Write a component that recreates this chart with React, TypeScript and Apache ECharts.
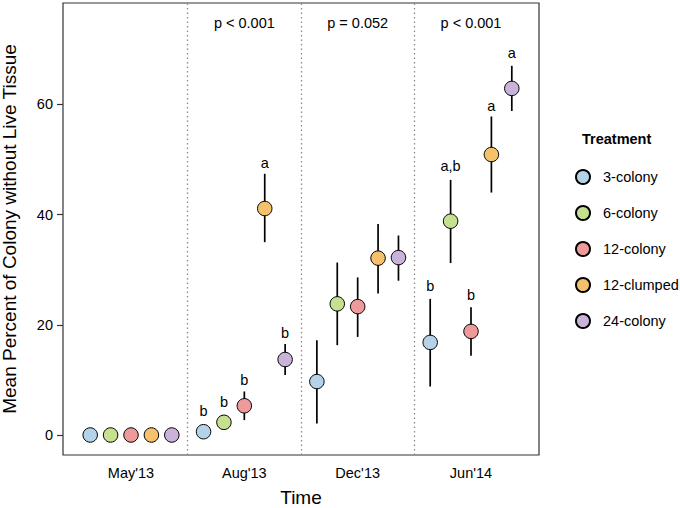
import React, { useEffect, useRef } from "react";
import * as echarts from "echarts";

const times = ["May'13", "Aug'13", "Dec'13", "Jun'14"];
const treatments = ["3-colony", "6-colony", "12-colony", "12-clumped", "24-colony"];
const colors = ["#b4d3e9", "#c5e08e", "#ee9a9a", "#f5c26b", "#c9b3db"];
const dodge = [-0.36, -0.18, 0, 0.18, 0.36];

const mean3 = [0, 0.6, 9.7, 16.8];
const lo3 = [0, 0.1, 2.1, 8.8];
const hi3 = [0, 1.1, 17.2, 24.7];
const mean6 = [0, 2.3, 23.8, 38.8];
const lo6 = [0, 1.5, 16.3, 31.2];
const hi6 = [0, 3.1, 31.3, 46.3];
const mean12 = [0, 5.3, 23.3, 18.8];
const lo12 = [0, 2.7, 17.8, 14.4];
const hi12 = [0, 7.9, 28.6, 23.2];
const meanC = [0, 41.1, 32.1, 50.9];
const loC = [0, 35.0, 25.7, 44.0];
const hiC = [0, 47.4, 38.3, 57.8];
const mean24 = [0, 13.7, 32.2, 62.9];
const lo24 = [0, 10.9, 28.0, 58.8];
const hi24 = [0, 16.5, 36.2, 67.0];

const means = [mean3, mean6, mean12, meanC, mean24];
const lows = [lo3, lo6, lo12, loC, lo24];
const highs = [hi3, hi6, hi12, hiC, hi24];

const letterTime = [1, 1, 1, 1, 1, 3, 3, 3, 3, 3];
const letterTreat = [0, 1, 2, 3, 4, 0, 1, 2, 3, 4];
const letterText = ["b", "b", "b", "a", "b", "b", "a,b", "b", "a", "a"];
const letterY = [4.4, 5.9, 9.9, 49.4, 18.6, 27.0, 48.8, 25.4, 59.7, 69.3];

const pTime = [1, 2, 3];
const pText = ["p < 0.001", "p = 0.052", "p < 0.001"];
const pY = [74.7, 74.7, 74.7];

const yTicks = [0, 20, 40, 60];
const xTicks = [1, 2, 3, 4];
const dividers = [1.5, 2.5, 3.5];

const FONT = "'Liberation Sans', Arial, Helvetica, sans-serif";

export default function App() {
  const ref = useRef<HTMLDivElement>(null);
  useEffect(() => {
    if (!ref.current) return;
    const chart = echarts.init(ref.current, null, { renderer: "svg" });

    const textRender = (params: any, api: any) => {
      const idx = params.dataIndex;
      const p = api.coord([api.value(0), api.value(1)]);
      const d = params.seriesName === "letters" ? letterText : pText;
      return {
        type: "text",
        x: p[0],
        y: p[1],
        style: {
          text: d[idx],
          align: "center",
          verticalAlign: "middle",
          fill: "#000",
          fontSize: 14.5,
          fontFamily: FONT,
        },
      };
    };

    const series: any[] = [];
    treatments.forEach((name, k) => {
      series.push({
        name: name + " error",
        type: "custom",
        z: 2,
        silent: true,
        data: means[k].map((_, t) => [t + 1 + dodge[k], lows[k][t], highs[k][t]]),
        renderItem: (params: any, api: any) => {
          const p1 = api.coord([api.value(0), api.value(1)]);
          const p2 = api.coord([api.value(0), api.value(2)]);
          return {
            type: "line",
            shape: { x1: p1[0], y1: p1[1], x2: p2[0], y2: p2[1] },
            style: { stroke: "#000", lineWidth: 1.7 },
          };
        },
      });
    });
    treatments.forEach((name, k) => {
      series.push({
        name,
        type: "scatter",
        z: 3,
        symbol: "circle",
        symbolSize: 14.5,
        itemStyle: { color: colors[k], borderColor: "#000", borderWidth: 1, opacity: 1 },
        data: means[k].map((v, t) => [t + 1 + dodge[k], v]),
      });
    });
    series.push({
      name: "letters",
      type: "custom",
      z: 4,
      silent: true,
      renderItem: textRender,
      data: letterText.map((_, i) => [letterTime[i] + 1 + dodge[letterTreat[i]], letterY[i]]),
    });
    series.push({
      name: "pvalues",
      type: "custom",
      z: 4,
      silent: true,
      renderItem: textRender,
      data: pText.map((_, i) => [pTime[i] + 1, pY[i]]),
      markLine: {
        silent: true,
        symbol: "none",
        label: { show: false },
        lineStyle: { color: "#8c8c8c", type: [1.5, 3], width: 1.3 },
        data: dividers.map((d) => ({ xAxis: d })),
      },
    });

    chart.setOption({
      animation: false,
      backgroundColor: "#fff",
      textStyle: { fontFamily: FONT },
      grid: {
        left: 63,
        right: 141,
        top: 3,
        bottom: 53,
        outerBoundsMode: "none",
        containLabel: false,
        show: true,
        borderColor: "#333",
        borderWidth: 1.2,
        backgroundColor: "transparent",
      },
      xAxis: {
        type: "value",
        min: 0.4,
        max: 4.6,
        name: "Time",
        nameLocation: "middle",
        nameGap: 33,
        nameTextStyle: { fontSize: 19, color: "#000", fontFamily: FONT },
        axisLine: { show: false },
        axisTick: { show: false },
        splitLine: { show: false },
        axisLabel: {
          customValues: xTicks,
          formatter: (v: number) => times[Math.round(v) - 1],
          fontSize: 14.5,
          color: "#000",
          margin: 10,
          fontFamily: FONT,
        },
      },
      yAxis: {
        type: "value",
        min: -3.63,
        max: 78.4,
        name: "Mean Percent of Colony without Live Tissue",
        nameLocation: "middle",
        nameGap: 44,
        nameTextStyle: { fontSize: 19, color: "#000", fontFamily: FONT },
        axisLine: { show: false },
        splitLine: { show: false },
        axisTick: {
          show: true,
          customValues: yTicks,
          length: 6,
          lineStyle: { color: "#333", width: 1.2 },
        },
        axisLabel: {
          customValues: yTicks,
          fontSize: 14.5,
          color: "#000",
          margin: 10,
          fontFamily: FONT,
        },
      },
      legend: {
        data: treatments,
        orient: "vertical",
        left: 570,
        top: 164,
        itemWidth: 14,
        itemHeight: 14,
        itemGap: 20,
        icon: "circle",
        textStyle: { fontSize: 14.5, color: "#000", fontFamily: FONT, padding: [0, 0, 0, 8] },
        selectedMode: false,
      },
      graphic: [
        {
          type: "text",
          left: 582,
          top: 131,
          style: { text: "Treatment", fontSize: 14.5, fontWeight: "bold", fill: "#000", fontFamily: FONT },
        },
      ],
      series,
    });
    return () => chart.dispose();
  }, []);
  return <div ref={ref} style={{ position: "fixed", left: 0, top: 0, width: 680, height: 508 }} />;
}
